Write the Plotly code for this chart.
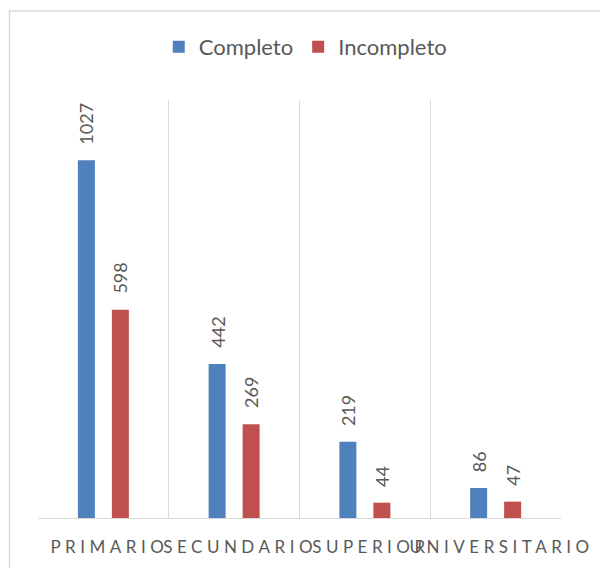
import plotly.graph_objects as go

categories = ["PRIMARIO", "SECUNDARIO", "SUPERIOR", "UNIVERSITARIO"]
completo = [1027, 442, 219, 86]
incompleto = [598, 269, 44, 47]
series_names = ["Completo", "Incompleto"]
colors = ["#4f81bd", "#c0504d"]

FONT = "Lato, 'Open Sans', sans-serif"
GRAY = "#595959"

fig = go.Figure()
for name, vals, col in zip(series_names, [completo, incompleto], colors):
    fig.add_trace(go.Bar(x=categories, y=vals, name=name, marker_color=col,
                         marker_line_width=0))

annotations = []
for vals, shift in [(completo, -17), (incompleto, 17)]:
    for c, v in zip(categories, vals):
        annotations.append(dict(x=c, y=v, xref="x", yref="y", text=str(v),
                                showarrow=False, textangle=-90,
                                xanchor="center", yanchor="bottom",
                                xshift=shift, yshift=14,
                                font=dict(family=FONT, size=18, color=GRAY)))

fig.update_layout(
    width=600, height=568,
    margin=dict(l=38, r=39, t=100, b=50, autoexpand=False),
    paper_bgcolor="white", plot_bgcolor="white",
    barmode="group", bargap=0.48, bargroupgap=0.5,
    showlegend=True,
    legend=dict(orientation="h", x=0.511, xanchor="center", y=1.127, yanchor="middle",
                font=dict(family=FONT, size=22, color=GRAY), itemwidth=30,
                traceorder="normal"),
    annotations=annotations,
    shapes=[dict(type="rect", xref="paper", yref="paper",
                 x0=-0.0545, x1=1.3, y0=-0.4, y1=1.2129,
                 line=dict(color="#d9d9d9", width=1.5), layer="below")],
    xaxis=dict(tickson="boundaries", showgrid=True, gridcolor="#d9d9d9", gridwidth=1,
               showline=True, linecolor="#d9d9d9", linewidth=1, ticks="",
               tickangle=0, automargin=False,
               ticklabelstandoff=14,
               tickfont=dict(family=FONT, size=17, color=GRAY)),
    yaxis=dict(range=[0, 1200], visible=False, showgrid=False, zeroline=False),
)

post = """
document.body.style.margin='0';
document.querySelectorAll('.xtick text').forEach(function(t){
  t.style.letterSpacing='4.5px';
  t.setAttribute('dx','6');
});
"""
fig.write_html("out.html", post_script=post, config={"displayModeBar": False})
